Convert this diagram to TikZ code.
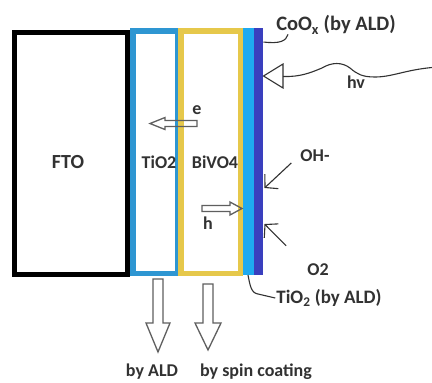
\documentclass[tikz,border=0pt]{standalone}
\usepackage{fontspec}
\setmainfont{Carlito}
\usetikzlibrary{arrows.meta,calc}
\definecolor{tiblue}{RGB}{46,150,210}
\definecolor{bvyellow}{RGB}{230,200,75}
\definecolor{aldblue}{RGB}{30,170,240}
\definecolor{coblue}{RGB}{58,63,190}
\definecolor{txtgray}{RGB}{50,50,50}
\definecolor{arrgray}{RGB}{95,95,95}

\begin{document}
\begin{tikzpicture}[x=1pt, y=-1pt,
  lbl/.style={font=\fontsize{18}{20}\selectfont\bfseries, text=txtgray, inner sep=1pt},
  hollow/.style={draw=arrgray, line width=1.3pt, line join=miter},
  leader/.style={draw=txtgray, line width=1.1pt},
  barb/.style={leader, -{Straight Barb[length=9pt,width=20pt]}}]
\useasboundingbox[fill=white] (0,0) rectangle (432,383);
% couches
\draw[line width=5pt] (14.5,32.5) rectangle (127.5,274.5);
\draw[tiblue, line width=5.5pt] (132.75,30.75) rectangle (177.25,273.25);
\draw[bvyellow, line width=5.5pt] (180.75,30.75) rectangle (240.25,273.25);
\fill[aldblue] (243,28) rectangle (254,275);
\fill[coblue] (254,28) rectangle (263,275);
\coordinate (cotop) at (263.5,42);
\coordinate (hvtip) at (263.5,76);
\coordinate (ohtip) at (264.5,188);
\coordinate (otip) at (264.5,224);
\coordinate (aldbot) at (248,275);
% noms des couches
\node[lbl, font=\fontsize{20}{22}\selectfont\bfseries] (fto) at (68,162) {FTO};
\node[lbl] (tio) at (159,162) {TiO2};
\node[lbl] (bvo) at (215,162) {BiVO4};
% electron et trou
\node[lbl] (e) at (197,110) {e};
\draw[hollow] (197,120.5) -- (165,120.5) -- (165,117.5) -- (150,123.5)
  -- (165,129.5) -- (165,126.5) -- (197,126.5) -- cycle;
\node[lbl] (h) at (208,223) {h};
\draw[hollow] (202,205.5) -- (230,205.5) -- (230,202) -- (242,208.5)
  -- (230,215) -- (230,211.5) -- (202,211.5) -- cycle;
% CoOx
\node[lbl, font=\fontsize{20.5}{22}\selectfont\bfseries] (coox) at (336,25) {CoO\textsubscript{x} (by ALD)};
\draw[leader] (cotop) .. controls (280,44) and (286,41) .. ($(coox.south west)+(13,-1)$);
% lumiere
\node[lbl] (hv) at (356,82) {hv};
\draw[leader] (hvtip) -- (283,64) -- (283,88) -- cycle;
\draw[leader] (283,76.5) .. controls (300,77) and (310,73) .. (322,68)
  .. controls (332,62) and (342,62) .. (350,68)
  .. controls (357,74) and (362,77) .. (375,77)
  .. controls (392,77) and (405,70) .. (432,67.5);
% OH- et O2
\node[lbl] (oh) at (315,156) {OH-};
\draw[barb] ($(oh.west)+(-8,7)$) -- (ohtip);
\node[lbl] (otwo) at (318,270) {O2};
\draw[barb] ($(otwo.north west)+(-20,-17)$) -- (otip);
% TiO2 ALD
\node[lbl, font=\fontsize{19}{21}\selectfont\bfseries] (tiald) at (329,298) {TiO\textsubscript{2} (by ALD)};
\draw[leader] (aldbot) .. controls (250,285) and (251,293) .. (258,294) -- (tiald.west);
% methodes de depot
\draw[hollow] (153,279) -- (163,279) -- (163,323) -- (170,323) -- (158,352)
  -- (146,323) -- (153,323) -- cycle;
\draw[hollow] (203,284) -- (213,284) -- (213,323) -- (221,323) -- (208,350)
  -- (195,323) -- (203,323) -- cycle;
\node[lbl] (ald) at (152,372) {by ALD};
\node[lbl] (spin) at (256,372) {by spin coating};
\end{tikzpicture}
\end{document}
